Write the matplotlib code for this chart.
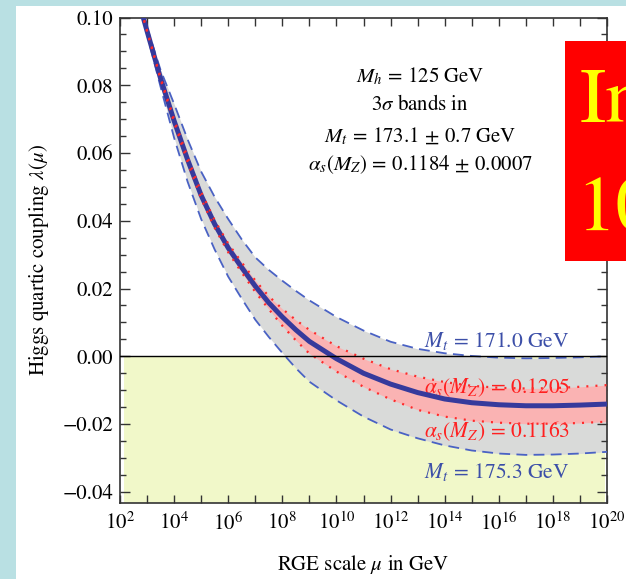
import matplotlib
matplotlib.use("Agg")
import matplotlib.pyplot as plt
from matplotlib.patches import Rectangle
from matplotlib.ticker import FixedLocator, FuncFormatter, MultipleLocator
import numpy as np

plt.rcParams['mathtext.fontset'] = 'stix'
plt.rcParams['font.family'] = ['STIXGeneral', 'DejaVu Serif']

# log10 of the RGE scale (GeV)
log_mu = [2.8, 3.0, 3.5, 4.0, 4.5, 5.0, 5.5, 6.0, 6.5, 7.0, 7.5, 8.0, 8.5, 9.0,
          10, 11, 12, 13, 14, 15, 16, 17, 18, 19, 20]

# central value of lambda(mu)
lam_central = [0.1017, 0.0960, 0.0820, 0.0695, 0.0580, 0.0475, 0.0390, 0.0320, 0.0262,
               0.0207, 0.0158, 0.0116, 0.0078, 0.0044, -0.0007, -0.0050, -0.0082,
               -0.0107, -0.0126, -0.0137, -0.0143, -0.0146, -0.0146, -0.0144, -0.0141]

# top mass band edges
lam_mt_171 = [0.1020, 0.0970, 0.0845, 0.0745, 0.0640, 0.0545, 0.0470, 0.0405, 0.0345,
              0.0292, 0.0255, 0.0223, 0.0193, 0.0165, 0.0116, 0.0076, 0.0043,
              0.0022, 0.0009, 0.0001, -0.0004, -0.0006, -0.0005, -0.0003, 0.0000]
lam_mt_175 = [0.1013, 0.0950, 0.0795, 0.0645, 0.0515, 0.0405, 0.0315, 0.0235, 0.0170,
              0.0108, 0.0057, 0.0010, -0.0035, -0.0075, -0.0130, -0.0178, -0.0216,
              -0.0242, -0.0263, -0.0278, -0.0287, -0.0291, -0.0290, -0.0287, -0.0282]

# alpha_s band edges
lam_as_1205 = [0.1018, 0.0962, 0.0823, 0.0700, 0.0587, 0.0485, 0.0401, 0.0333, 0.0277,
               0.0224, 0.0177, 0.0140, 0.0107, 0.0078, 0.0030, -0.0007, -0.0038,
               -0.0060, -0.0076, -0.0087, -0.0093, -0.0095, -0.0094, -0.0090, -0.0085]
lam_as_1163 = [0.1016, 0.0958, 0.0817, 0.0690, 0.0573, 0.0465, 0.0379, 0.0307, 0.0247,
               0.0190, 0.0139, 0.0090, 0.0047, 0.0008, -0.0045, -0.0090, -0.0127,
               -0.0158, -0.0178, -0.0190, -0.0196, -0.0199, -0.0199, -0.0197, -0.0193]

mu = 10.0 ** np.array(log_mu)

fig = plt.figure(figsize=(6.26, 5.79), dpi=100)
fig.patch.set_facecolor('#b9e0e3')
fig.add_artist(Rectangle((16 / 626, 0), 1, 1 - 6 / 579, transform=fig.transFigure,
                         facecolor='white', edgecolor='none', zorder=-5))

ax = fig.add_axes([120 / 626, 76 / 579, 487 / 626, 485.5 / 579])
ax.set_xscale('log')
ax.set_xlim(1e2, 1e20)
ax.set_ylim(-0.0433, 0.10)

# unstable region
ax.axhspan(-0.0433, 0, xmin=0.008, xmax=0.996, color='#f1f8c9', lw=0, zorder=0)

ax.fill_between(mu, lam_mt_175, lam_mt_171, color='#d9dad9', lw=0, zorder=1)
ax.fill_between(mu, lam_as_1163, lam_as_1205, color='#fab3b3', lw=0, zorder=2)

ax.plot(mu, lam_mt_171, color='#4a62c4', lw=1.3, dashes=(6, 3.5), zorder=3)
ax.plot(mu, lam_mt_175, color='#4a62c4', lw=1.3, dashes=(6, 3.5), zorder=3)
ax.plot(mu, lam_central, color='#363a9c', lw=3.6, zorder=4, solid_capstyle='butt')
ax.plot(mu, lam_as_1205, color='#ff2a2a', lw=1.6, dashes=(0.9, 3.2), zorder=5)
ax.plot(mu, lam_as_1163, color='#ff2a2a', lw=1.6, dashes=(0.9, 3.2), zorder=5)
ax.axhline(0, color='black', lw=1.0, zorder=5)

# ticks
decades = [10.0 ** k for k in range(2, 21)]
ax.xaxis.set_major_locator(FixedLocator(decades))
ax.xaxis.set_minor_locator(FixedLocator([]))

def fmt_x(x, pos):
    k = int(round(np.log10(x)))
    if k % 2:
        return ''
    return r'$10^{%d}$' % k

ax.xaxis.set_major_formatter(FuncFormatter(fmt_x))
ax.yaxis.set_major_locator(MultipleLocator(0.02))
ax.yaxis.set_minor_locator(MultipleLocator(0.005))
ax.yaxis.set_major_formatter(FuncFormatter(lambda v, p: f'{v:.2f}'.replace('-', '\u2212')))

ax.tick_params(which='both', direction='in', top=True, right=True, labelsize=15,
               width=1.0, color='#333333')
ax.tick_params(axis='x', which='major', length=6, pad=7)
ax.tick_params(axis='y', which='major', length=7, pad=5)
ax.tick_params(axis='y', which='minor', length=4.5)
for s in ax.spines.values():
    s.set_linewidth(1.2)
    s.set_color('#333333')

ax.set_xlabel(r'RGE scale $\mu$ in GeV', fontsize=15, labelpad=13)
ax.set_ylabel(r'Higgs quartic coupling $\lambda(\mu)$', fontsize=15, labelpad=8)

# band labels
xl = 10 ** 15.93
lab_kw = dict(fontsize=15.5, ha='center', va='baseline')
ax.text(xl, 0.0027, r'$M_t\,=\,171.0\ \mathrm{GeV}$', color='#3c4fa8', zorder=6, **lab_kw)
ax.text(xl, -0.0109, r'$\alpha_s(M_Z)\,=\,0.1205$', color='#ff2020', zorder=2.5, **lab_kw)
ax.text(xl, -0.0239, r'$\alpha_s(M_Z)\,=\,0.1163$', color='#ff2020', zorder=2.5, **lab_kw)
ax.text(xl, -0.0360, r'$M_t\,=\,175.3\ \mathrm{GeV}$', color='#3c4fa8', zorder=6, **lab_kw)

# inputs
info = [r'$M_h\,=\,125\ \mathrm{GeV}$',
        r'$3\sigma$ bands in',
        r'$M_t\,=\,173.1\,\pm\,0.7\ \mathrm{GeV}$',
        r'$\alpha_s(M_Z)\,=\,0.1184\,\pm\,0.0007$']
for line, ypx in zip(info, [82, 110, 142, 170]):
    fig.text(420 / 626, 1 - ypx / 579, line, fontsize=15, ha='center', va='baseline')

# red box on the right
fig.add_artist(Rectangle((565 / 626, 1 - 261 / 579), 0.2, 220 / 579,
                         transform=fig.transFigure, facecolor='#ff0000',
                         edgecolor='none', zorder=10))
fig.text(580 / 626, 1 - 122 / 579, 'In', fontsize=57, color='#ffff00',
         ha='left', va='baseline', zorder=11)
fig.text(576 / 626, 1 - 230 / 579, '10', fontsize=57, color='#ffff00',
         ha='left', va='baseline', zorder=11)

fig.savefig('out.png', dpi=100, facecolor=fig.get_facecolor())
